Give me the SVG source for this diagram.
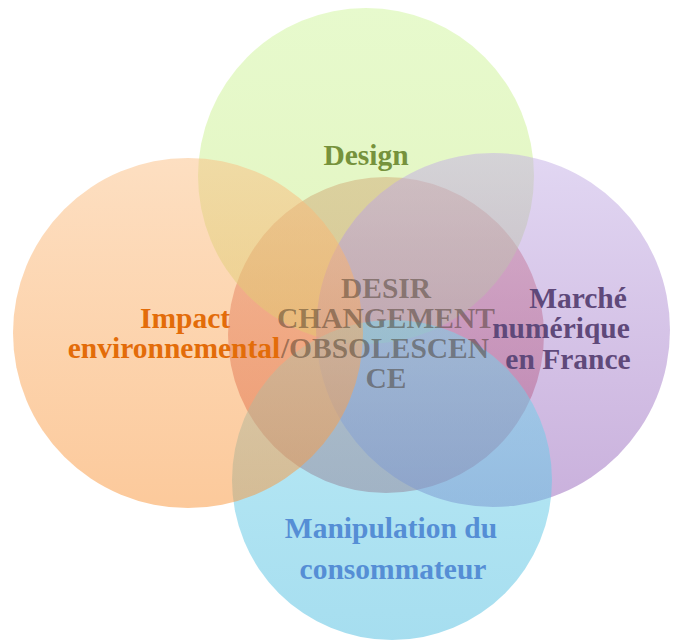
<svg xmlns="http://www.w3.org/2000/svg" width="675" height="641" viewBox="0 0 675 641">
<style>
.lbl{font-family:"Liberation Serif","Times New Roman",serif;font-weight:bold;font-size:29.5px;text-anchor:middle}
.ov{fill-opacity:0.5}
</style>
<defs>
<linearGradient id="gC" x1="0" y1="0" x2="0" y2="1"><stop offset="0" stop-color="#ebb2b0"/><stop offset="1" stop-color="#e29ea4"/></linearGradient>
<linearGradient id="gG" x1="0" y1="0" x2="0" y2="1"><stop offset="0" stop-color="#cff59b"/><stop offset="1" stop-color="#c6e980"/></linearGradient>
<linearGradient id="gP" x1="0" y1="0" x2="0" y2="1"><stop offset="0" stop-color="#c4afe6"/><stop offset="1" stop-color="#9462b9"/></linearGradient>
<linearGradient id="gB" x1="0" y1="0" x2="0" y2="1"><stop offset="0" stop-color="#78d6ec"/><stop offset="1" stop-color="#4ebde0"/></linearGradient>
<linearGradient id="gO" x1="0" y1="0" x2="0" y2="1"><stop offset="0" stop-color="#fbbf84"/><stop offset="1" stop-color="#f99438"/></linearGradient>
</defs>
<rect width="675" height="641" fill="#ffffff"/>
<g id="node-center">
<circle cx="386" cy="335" r="158" fill="url(#gC)"/>
</g>
<g id="node-design">
<circle class="ov" cx="366" cy="176" r="168" fill="url(#gG)"/>
<text class="lbl" x="366" y="165" fill="#76923c">Design</text>
</g>
<g id="node-marche">
<circle class="ov" cx="493" cy="330" r="177" fill="url(#gP)"/>
<text class="lbl" fill="#5f497a"><tspan x="578" y="308">Marché</tspan><tspan x="561" y="338">numérique</tspan><tspan x="568" y="369">en France</tspan></text>
</g>
<g id="node-manipulation">
<circle class="ov" cx="392" cy="480" r="160" fill="url(#gB)"/>
<text class="lbl" fill="#558ed5"><tspan x="391" y="538">Manipulation du</tspan><tspan x="393" y="579">consommateur</tspan></text>
</g>
<g id="node-impact">
<circle class="ov" cx="188" cy="333" r="175" fill="url(#gO)"/>
<text class="lbl" fill="#e36c09"><tspan x="185" y="328">Impact</tspan><tspan x="174" y="358">environnemental</tspan></text>
</g>
<g id="node-center-label">
<text class="lbl" fill="#3a2c1a" fill-opacity="0.45"><tspan x="386" y="298">DESIR</tspan><tspan x="386" y="328">CHANGEMENT</tspan><tspan x="385" y="358">/OBSOLESCEN</tspan><tspan x="386" y="388">CE</tspan></text>
</g>
<g id="connectors"/>
</svg>
